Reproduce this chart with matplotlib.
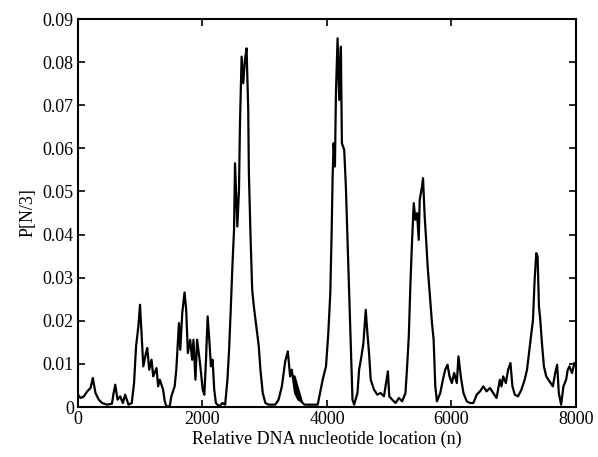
import matplotlib
matplotlib.use("Agg")
import matplotlib.pyplot as plt

# =========================
# DATA
# =========================
zoom1_X = [52, 60, 70, 80, 90, 97, 105, 115, 125, 140, 155, 160, 165, 172, 180, 188, 195, 205, 215,
           222, 228, 235, 240, 245, 250, 258, 262, 268, 275, 280, 290, 295, 300, 310, 315, 320, 330,
           335, 345, 350, 358, 362, 368, 375, 380, 385, 392, 398, 402, 408, 413, 420, 425, 430, 435,
           440, 445, 450, 455, 460, 465, 470, 480, 490, 498, 505, 510, 515, 520, 525, 528, 535, 540,
           543, 548, 553, 558, 563, 568, 570, 575, 580, 585, 590, 600, 605, 612, 620, 630, 650, 660,
           670, 680, 688, 695, 700, 710, 720, 730]
zoom1_Y = [1185, 1195, 1190, 1175, 1165, 1135, 1180, 1200, 1210, 1215, 1212, 1180, 1155, 1200, 1190,
           1210, 1185, 1215, 1210, 1150, 1040, 980, 915, 1010, 1100, 1060, 1045, 1110, 1080, 1130,
           1105, 1160, 1140, 1170, 1205, 1220, 1220, 1190, 1160, 1110, 970, 1050, 940, 878, 930,
           1060, 1020, 1080, 1020, 1140, 1020, 1075, 1120, 1170, 1185, 1080, 950, 1020, 1100, 1080,
           1170, 1210, 1220, 1210, 1215, 1140, 1050, 930, 800, 690, 490, 680, 570, 370, 170, 250,
           180, 145, 330, 520, 710, 870, 920, 960, 1040, 1110, 1180, 1210, 1215, 1215, 1200, 1160,
           1085, 1055, 1130, 1110, 1180, 1200, 1205]

zoom2_X = [10, 20, 30, 40, 60, 80, 85, 95, 105, 112, 118, 122, 125, 128, 132, 135, 140, 145, 150,
           153, 160, 165, 170, 175, 180, 185, 190, 200, 205, 212, 218, 225, 230, 235, 240, 250, 260,
           270, 280, 292, 296, 305, 315, 325, 335, 345, 350, 355, 360, 365, 370, 375, 380, 385, 388,
           395, 398, 403, 408, 412, 418, 425, 430, 435, 440, 450, 458, 465, 472, 478, 485, 492, 500,
           505, 512, 520, 530, 540, 550, 560, 570, 580, 590, 600, 610, 620, 630, 635, 640, 648, 655,
           662, 668, 675, 685, 695, 705, 712, 718, 725, 730, 735, 740, 744, 748, 752, 757, 763, 770,
           780, 790, 797, 803, 808, 815, 822, 830, 835, 840, 848, 855]
zoom2_Y = [1130, 1190, 1205, 1215, 1215, 1215, 1190, 1140, 1100, 1000, 880, 700, 530, 430, 500, 280,
           115, 300, 140, 430, 450, 560, 720, 880, 1050, 1200, 1215, 1180, 1110, 1070, 1030, 930,
           1000, 1060, 1140, 1170, 1185, 1180, 1190, 1115, 1190, 1200, 1210, 1195, 1205, 1180, 1100,
           1010, 850, 720, 610, 660, 640, 720, 600, 560, 535, 650, 730, 800, 880, 970, 1020, 1160,
           1205, 1180, 1140, 1110, 1095, 1130, 1150, 1120, 1150, 1070, 1130, 1180, 1205, 1210, 1210,
           1185, 1175, 1160, 1175, 1165, 1180, 1195, 1140, 1160, 1130, 1150, 1110, 1090, 1160, 1185,
           1190, 1170, 1140, 1110, 1060, 1000, 960, 840, 760, 770, 920, 960, 1030, 1100, 1130, 1145,
           1160, 1120, 1095, 1180, 1215, 1160, 1140, 1110, 1100, 1120, 1090]

# pixel readings -> data units
loc = [(X - 52) * 5.3 for X in zoom1_X] + [4000 + (X - 108) * 5.32 for X in zoom2_X]
power = [(1222 - Y) * 0.09 / 1165 for Y in zoom1_Y + zoom2_Y]
power = [max(p, 0.0) for p in power]

# =========================
# PLOT
# =========================
plt.rcParams['font.family'] = ['Liberation Serif', 'DejaVu Serif']
plt.rcParams['font.size'] = 13

fig = plt.figure(figsize=(5.98, 4.57), dpi=100)
ax = fig.add_axes([0.1304, 0.1094, 0.8328, 0.849])
ax.plot(loc, power, color='black', linewidth=1.6)

ax.set_xlim(0, 8000)
ax.set_ylim(0, 0.09)
ax.set_xticks([0, 2000, 4000, 6000, 8000])
ax.set_xticklabels(['0', '2000', '4000', '6000', '8000'])
ax.set_yticks([0, 0.01, 0.02, 0.03, 0.04, 0.05, 0.06, 0.07, 0.08, 0.09])
ax.set_yticklabels(['0', '0.01', '0.02', '0.03', '0.04', '0.05', '0.06', '0.07', '0.08', '0.09'])
ax.tick_params(direction='in', top=True, right=True, length=5, width=1.2, pad=3)
for s in ax.spines.values():
    s.set_linewidth(1.5)

ax.set_xlabel('Relative DNA nucleotide location (n)', labelpad=2)
ax.set_ylabel('P[N/3]', labelpad=4)

fig.savefig('out.png', dpi=100)
